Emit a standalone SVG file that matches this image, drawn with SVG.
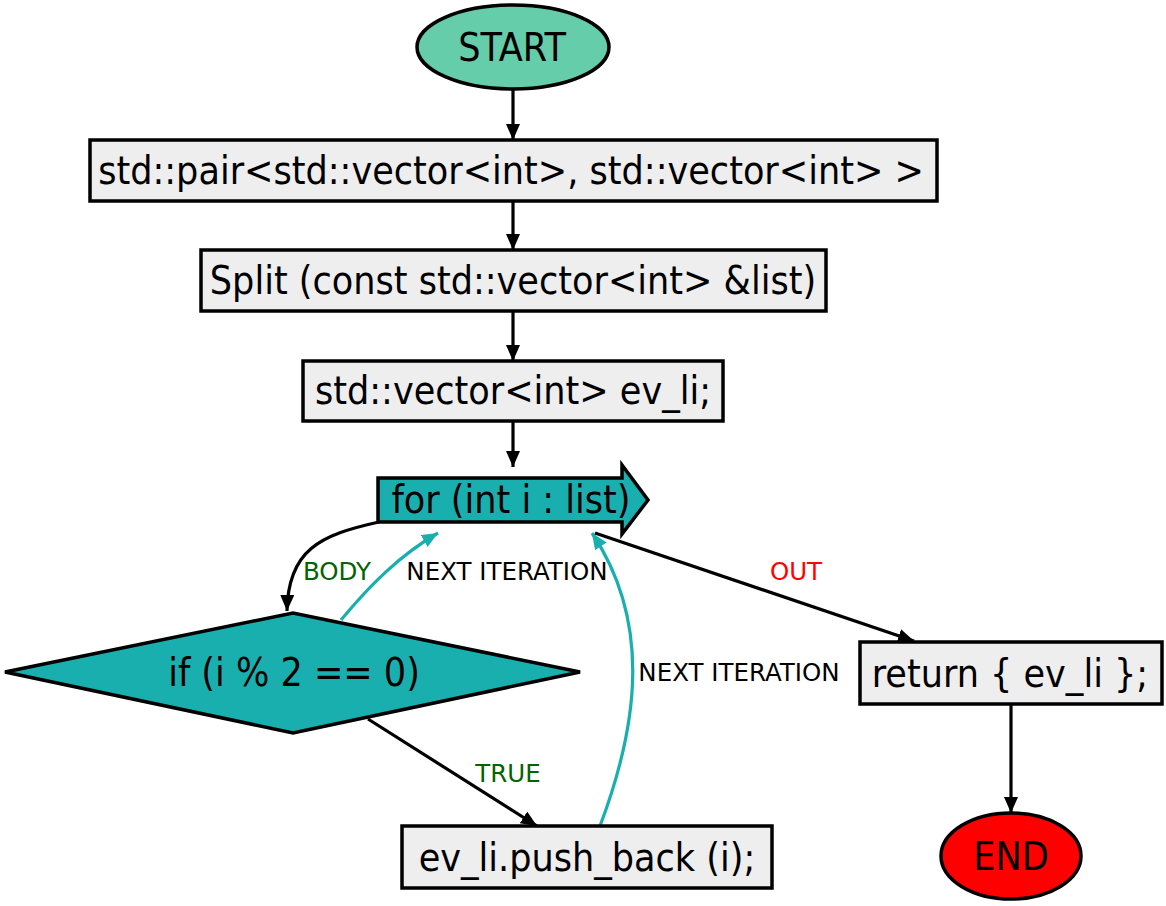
<svg xmlns="http://www.w3.org/2000/svg" width="1166" height="906" viewBox="0 0 1166 906">
<style>
.nt{font-family:"DejaVu Sans Condensed","DejaVu Sans",sans-serif;font-size:39px;fill:#000;text-anchor:middle}
.lb{font-family:"DejaVu Sans",sans-serif;font-size:24.5px;text-anchor:middle}
.box{fill:#eeeeee;stroke:#000;stroke-width:3.5}
.e{fill:none;stroke:#000;stroke-width:3.2}
.t{fill:none;stroke:#19afaf;stroke-width:3.2}
</style>
<defs>
<marker id="ak" markerUnits="userSpaceOnUse" markerWidth="18" markerHeight="16" refX="16" refY="7" orient="auto"><path d="M0,0 L16,7 L0,14 z" fill="#000"/></marker>
<marker id="at" markerUnits="userSpaceOnUse" markerWidth="18" markerHeight="16" refX="16" refY="7" orient="auto"><path d="M0,0 L16,7 L0,14 z" fill="#19afaf"/></marker>
</defs>
<rect width="1166" height="906" fill="#fff"/>
<g id="edges">
<path class="e" d="M513,90 L513,140" marker-end="url(#ak)"/>
<path class="e" d="M513,201 L513,250" marker-end="url(#ak)"/>
<path class="e" d="M513,311 L513,361" marker-end="url(#ak)"/>
<path class="e" d="M513,421 L513,467" marker-end="url(#ak)"/>
<path class="e" d="M379,522 C320,535 288,550 287,611" marker-end="url(#ak)"/>
<path class="t" d="M341,620 C370,585 400,555 438,533" marker-end="url(#at)"/>
<path class="e" d="M368,719 L537,826" marker-end="url(#ak)"/>
<path class="t" d="M600,826 C640,720 650,620 592,533" marker-end="url(#at)"/>
<path class="e" d="M595,533 L914,641" marker-end="url(#ak)"/>
<path class="e" d="M1011,704 L1011,813" marker-end="url(#ak)"/>
<text class="lb" x="337" y="580" fill="#006400">BODY</text>
<text class="lb" x="507" y="580" fill="#000">NEXT ITERATION</text>
<text class="lb" x="796" y="580" fill="#ff0000">OUT</text>
<text class="lb" x="739" y="681" fill="#000">NEXT ITERATION</text>
<text class="lb" x="508" y="782" fill="#006400">TRUE</text>
</g>
<g id="start"><ellipse cx="513" cy="47" rx="96" ry="42" fill="#66cdaa" stroke="#000" stroke-width="3.5"/><text class="nt" x="512" y="61">START</text></g>
<g id="decl"><rect class="box" x="90" y="140" width="847" height="61"/><text class="nt" x="511" y="184">std::pair&lt;std::vector&lt;int&gt;, std::vector&lt;int&gt; &gt;</text></g>
<g id="split"><rect class="box" x="201" y="250" width="625" height="61"/><text class="nt" x="513" y="294">Split (const std::vector&lt;int&gt; &amp;list)</text></g>
<g id="vec"><rect class="box" x="303" y="361" width="420" height="60"/><text class="nt" x="513" y="404">std::vector&lt;int&gt; ev_li;</text></g>
<g id="for"><polygon points="378,478 622,478 622,465 648,500 622,534 622,522 378,522" fill="#19afaf" stroke="#000" stroke-width="3.5"/><text class="nt" x="511" y="513">for (int i : list)</text></g>
<g id="if"><polygon points="5,672 293,613 580,672 293,733" fill="#19afaf" stroke="#000" stroke-width="3.5"/><text class="nt" x="294" y="686">if (i % 2 == 0)</text></g>
<g id="push"><rect class="box" x="402" y="826" width="370" height="62"/><text class="nt" x="587" y="871">ev_li.push_back (i);</text></g>
<g id="ret"><rect class="box" x="860" y="642" width="302" height="62"/><text class="nt" x="1010" y="687">return { ev_li };</text></g>
<g id="end"><ellipse cx="1011" cy="856" rx="70" ry="43" fill="#ff0000" stroke="#000" stroke-width="3.5"/><text class="nt" x="1011" y="870">END</text></g>
</svg>
